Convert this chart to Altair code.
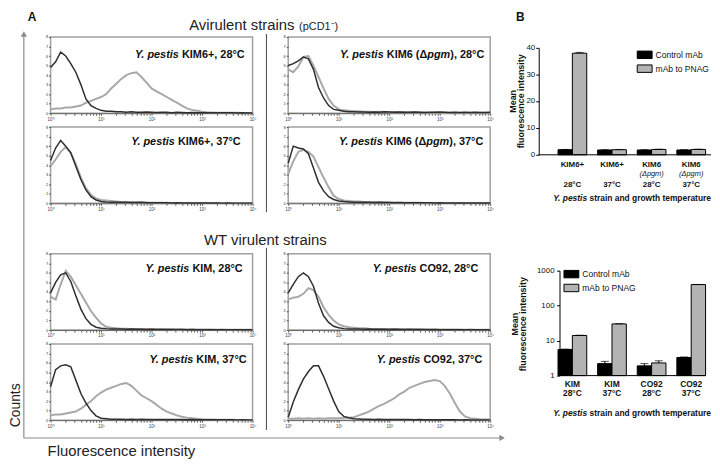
import math
import altair as alt
import pandas as pd

FONT = "Liberation Sans"
DARK = "#2e2e2e"
LIGHT = "#a8a8a8"
FRAME = "#a0a0a0"
ARROW = "#8a8a8a"

# ---------------- histogram data (log10 fluorescence bins, counts on a 0-8 axis) -------------
LOGF = [round(i * 0.1, 1) for i in range(41)]

KIM6P_28_CTRL = [4.8, 5.4, 6.4, 6.0, 5.2, 4.3, 3.0, 1.5, 0.8, 0.5, 0.3, 0.2, 0.2, 0.15, 0.15, 0.1, 0.15, 0.1, 0.1, 0.12,
                 0.1, 0.08, 0.1, 0.1, 0.06, 0.1, 0.08, 0.06, 0.08, 0.05, 0.06, 0.05, 0.05, 0.04, 0.05, 0.04, 0.04, 0.03, 0.04, 0.03, 0.03]
KIM6P_28_PNAG = [0.4, 0.5, 0.5, 0.6, 0.6, 0.7, 0.8, 1.1, 1.3, 1.5, 1.7, 2.0, 2.6, 3.1, 3.6, 4.0, 4.2, 4.3, 3.8, 3.2,
                 2.6, 2.3, 2.0, 1.7, 1.4, 1.1, 0.8, 0.5, 0.35, 0.25, 0.15, 0.1, 0.08, 0.06, 0.05, 0.05, 0.04, 0.04, 0.03, 0.03, 0.03]
KIM6P_37_CTRL = [4.5, 5.8, 6.6, 6.0, 5.3, 3.9, 2.5, 1.4, 0.7, 0.35, 0.2, 0.15, 0.12, 0.1, 0.1, 0.1, 0.08, 0.08, 0.1, 0.06,
                 0.06, 0.05, 0.06, 0.05, 0.04, 0.05, 0.04, 0.04, 0.03, 0.04, 0.03, 0.03, 0.03, 0.03, 0.02, 0.03, 0.02, 0.02, 0.02, 0.02, 0.02]
KIM6P_37_PNAG = [3.9, 4.6, 5.4, 5.9, 5.3, 4.1, 2.7, 1.6, 0.9, 0.5, 0.35, 0.3, 0.25, 0.2, 0.15, 0.12, 0.1, 0.1, 0.08, 0.08,
                 0.06, 0.06, 0.05, 0.05, 0.04, 0.04, 0.04, 0.03, 0.03, 0.03, 0.03, 0.02, 0.02, 0.02, 0.02, 0.02, 0.02, 0.02, 0.02, 0.02, 0.02]
PGM_28_CTRL = [5.0, 5.2, 5.5, 5.9, 5.7, 4.6, 2.7, 1.6, 0.8, 0.4, 0.3, 0.2, 0.15, 0.15, 0.12, 0.12, 0.1, 0.12, 0.1, 0.15,
               0.12, 0.1, 0.12, 0.1, 0.1, 0.12, 0.1, 0.08, 0.1, 0.1, 0.12, 0.1, 0.08, 0.1, 0.08, 0.1, 0.08, 0.1, 0.08, 0.08, 0.1]
PGM_28_PNAG = [4.6, 4.3, 4.9, 5.9, 6.0, 5.0, 3.8, 2.6, 1.5, 0.8, 0.4, 0.3, 0.25, 0.2, 0.2, 0.15, 0.15, 0.12, 0.15, 0.12,
               0.1, 0.12, 0.1, 0.1, 0.08, 0.1, 0.08, 0.08, 0.06, 0.08, 0.06, 0.06, 0.05, 0.06, 0.05, 0.05, 0.04, 0.05, 0.04, 0.04, 0.04]
PGM_37_CTRL = [4.2, 6.0, 5.8, 5.7, 5.2, 3.7, 2.2, 1.3, 0.7, 0.4, 0.25, 0.18, 0.15, 0.12, 0.1, 0.1, 0.1, 0.08, 0.1, 0.08,
               0.08, 0.06, 0.08, 0.06, 0.06, 0.05, 0.06, 0.05, 0.05, 0.04, 0.05, 0.04, 0.04, 0.04, 0.03, 0.04, 0.03, 0.03, 0.03, 0.03, 0.03]
PGM_37_PNAG = [3.1, 4.4, 5.4, 5.6, 5.4, 4.9, 3.8, 2.7, 1.7, 0.8, 0.45, 0.3, 0.25, 0.2, 0.18, 0.15, 0.12, 0.12, 0.1, 0.1,
               0.08, 0.08, 0.06, 0.06, 0.05, 0.05, 0.05, 0.04, 0.04, 0.04, 0.03, 0.03, 0.03, 0.03, 0.03, 0.02, 0.02, 0.02, 0.02, 0.02, 0.02]
KIM_28_CTRL = [3.9, 5.0, 5.8, 6.0, 5.1, 3.6, 2.2, 1.2, 0.6, 0.3, 0.2, 0.15, 0.12, 0.1, 0.1, 0.08, 0.1, 0.08, 0.08, 0.06,
               0.08, 0.06, 0.06, 0.05, 0.06, 0.05, 0.05, 0.04, 0.05, 0.04, 0.04, 0.04, 0.03, 0.04, 0.03, 0.03, 0.03, 0.03, 0.02, 0.03, 0.02]
KIM_28_PNAG = [3.5, 3.2, 4.8, 6.2, 5.6, 4.7, 3.8, 2.9, 2.0, 1.3, 0.7, 0.35, 0.25, 0.2, 0.15, 0.15, 0.12, 0.1, 0.12, 0.1,
               0.1, 0.08, 0.1, 0.08, 0.08, 0.06, 0.08, 0.06, 0.06, 0.05, 0.06, 0.05, 0.05, 0.04, 0.05, 0.04, 0.04, 0.04, 0.03, 0.03, 0.03]
CO92_28_CTRL = [3.9, 4.8, 5.6, 6.0, 5.6, 4.6, 2.8, 1.5, 0.8, 0.4, 0.25, 0.15, 0.12, 0.1, 0.1, 0.08, 0.1, 0.08, 0.08, 0.08,
                0.06, 0.08, 0.06, 0.06, 0.05, 0.06, 0.05, 0.05, 0.04, 0.05, 0.04, 0.04, 0.04, 0.03, 0.04, 0.03, 0.03, 0.03, 0.03, 0.03, 0.03]
CO92_28_PNAG = [3.2, 3.4, 3.5, 3.8, 4.4, 4.2, 3.5, 2.4, 1.6, 1.0, 0.6, 0.4, 0.3, 0.25, 0.2, 0.2, 0.15, 0.12, 0.12, 0.1,
                0.12, 0.1, 0.1, 0.08, 0.1, 0.08, 0.08, 0.06, 0.08, 0.06, 0.06, 0.05, 0.06, 0.05, 0.05, 0.04, 0.05, 0.04, 0.04, 0.04, 0.04]
KIM_37_CTRL = [3.5, 5.3, 5.7, 5.8, 5.6, 4.2, 2.8, 1.8, 1.0, 0.45, 0.2, 0.15, 0.1, 0.1, 0.1, 0.08, 0.1, 0.08, 0.1, 0.08,
               0.08, 0.06, 0.08, 0.06, 0.08, 0.06, 0.06, 0.05, 0.06, 0.05, 0.05, 0.05, 0.04, 0.05, 0.04, 0.04, 0.04, 0.03, 0.04, 0.03, 0.03]
KIM_37_PNAG = [0.5, 0.6, 0.6, 0.7, 0.8, 0.9, 1.2, 1.6, 2.0, 2.5, 2.9, 3.2, 3.4, 3.6, 3.8, 3.9, 3.6, 3.1, 2.6, 2.3,
               2.0, 1.6, 1.2, 0.9, 0.7, 0.5, 0.35, 0.25, 0.2, 0.15, 0.1, 0.08, 0.06, 0.05, 0.05, 0.04, 0.04, 0.03, 0.03, 0.03, 0.03]
CO92_37_CTRL = [0.3, 1.9, 3.2, 4.3, 5.1, 5.7, 5.7, 4.6, 3.3, 2.0, 0.9, 0.4, 0.25, 0.15, 0.12, 0.1, 0.1, 0.08, 0.1, 0.08,
                0.08, 0.06, 0.08, 0.06, 0.06, 0.05, 0.06, 0.05, 0.05, 0.04, 0.05, 0.04, 0.04, 0.04, 0.03, 0.04, 0.03, 0.03, 0.03, 0.03, 0.03]
CO92_37_PNAG = [0.15, 0.15, 0.2, 0.15, 0.2, 0.15, 0.2, 0.15, 0.2, 0.2, 0.2, 0.25, 0.25, 0.3, 0.5, 0.7, 0.9, 1.2, 1.5, 1.7,
                2.0, 2.3, 2.7, 3.0, 3.4, 3.6, 3.8, 4.0, 4.1, 4.2, 4.1, 3.6, 2.8, 1.8, 0.9, 0.4, 0.2, 0.15, 0.1, 0.08, 0.06]

X_TICK_VALUES = [d + math.log10(k) for d in range(4) for k in range(1, 10)] + [4.0]
X_TICK_LABELS = ["10⁰", "10¹", "10²", "10³", "10⁴"]
Y_TICK_VALUES = list(range(9))

# ---------------- bar chart data ----------------
SERIES = ["Control mAb", "mAb to PNAG"]
TOP_GROUPS = ["KIM6+ 28", "KIM6+ 37", "KIM6 pgm 28", "KIM6 pgm 37"]
TOP_LINE1 = ["KIM6+", "KIM6+", "KIM6", "KIM6"]
TOP_LINE2 = ["", "", "(Δpgm)", "(Δpgm)"]
TOP_TEMP = ["28°C", "37°C", "28°C", "37°C"]
TOP_CTRL = [1.9, 1.8, 1.8, 1.8]
TOP_CTRL_ERR = [0.1, 0.1, 0.1, 0.1]
TOP_PNAG = [38.0, 1.9, 2.0, 2.0]
TOP_PNAG_ERR = [0.3, 0.1, 0.1, 0.1]
TOP_TICKS = [0, 10, 20, 30, 40]

BOT_GROUPS = ["KIM 28", "KIM 37", "CO92 28", "CO92 37"]
BOT_LINE1 = ["KIM", "KIM", "CO92", "CO92"]
BOT_TEMP = ["28°C", "37°C", "28°C", "37°C"]
BOT_CTRL = [5.6, 2.2, 1.9, 3.3]
BOT_CTRL_ERR = [0.1, 0.35, 0.3, 0.1]
BOT_PNAG = [14.0, 30.0, 2.3, 400.0]
BOT_PNAG_ERR = [0.3, 0.5, 0.35, 3.0]
BOT_TICKS = [1, 10, 100, 1000]

ONE = pd.DataFrame({"k": [0]})

BOLD_W = {" ": 278, "(": 333, ")": 333, "+": 584, ",": 278, ".": 278, "°": 400, "Δ": 722,
          "A": 722, "C": 722, "I": 278, "K": 722, "M": 833, "O": 778, "Y": 667,
          "a": 556, "d": 611, "e": 556, "g": 611, "h": 611, "i": 278, "m": 889, "n": 611,
          "o": 611, "p": 611, "r": 389, "s": 556, "t": 333, "u": 611, "w": 778}


def text_w(s, size):
    return sum(BOLD_W.get(c, 556) for c in s) * size / 1000.0


def txt(text, x, y, size, weight="normal", style="normal", align="left", baseline="alphabetic",
        angle=0, color="#1a1a1a", line_height=None):
    kw = dict(text=text, fontSize=size, fontWeight=weight, fontStyle=style, align=align,
              baseline=baseline, angle=angle, color=color, font=FONT)
    if line_height is not None:
        kw["lineHeight"] = line_height
    return alt.Chart(ONE).mark_text(**kw).encode(x=alt.value(x), y=alt.value(y))


def rich_right(parts, x_end, y, size, color="#111"):
    """Right-aligned run of (text, italic) pieces, all bold."""
    out = []
    xr = x_end
    for text, italic in reversed(parts):
        stripped = text.rstrip(" ")
        xr_piece = xr - text_w(text[len(stripped):], size)
        out.append(txt(stripped, xr_piece, y, size, weight="bold",
                       style="italic" if italic else "normal", align="right", color=color))
        xr -= text_w(text, size)
    return out


def vrule(x, y1, y2, color, width=1.0):
    return alt.Chart(ONE).mark_rule(color=color, strokeWidth=width).encode(
        x=alt.value(x), y=alt.value(y1), y2=alt.value(y2))


def hrule(x1, x2, y, color, width=1.0):
    return alt.Chart(ONE).mark_rule(color=color, strokeWidth=width).encode(
        x=alt.value(x1), x2=alt.value(x2), y=alt.value(y))


def head(shape, x, y):
    return alt.Chart(ONE).mark_point(shape=shape, filled=True, size=40, color=ARROW, opacity=1).encode(
        x=alt.value(x), y=alt.value(y))


label_expr = " : ".join(
    f"abs(datum.value - {i}) < 0.001 ? '{lab}'" for i, lab in enumerate(X_TICK_LABELS)) + " : ''"

XAX = alt.Axis(values=X_TICK_VALUES, tickCount=len(X_TICK_VALUES), labelExpr=label_expr,
               labelFontSize=4.5, labelColor="#444",
               labelPadding=1, tickSize=2, tickColor="#555", domainColor="#666", domainWidth=1,
               grid=False, title=None, labelOverlap=False, labelFlush=False)
YAX = alt.Axis(values=Y_TICK_VALUES, tickCount=len(Y_TICK_VALUES), labelFontSize=4, labelColor="#333",
               labelPadding=1, tickSize=2,
               tickColor="#555", domain=False, grid=False, title=None, labelOverlap=False, labelFlush=False)

PW, PH = 204, 77


def panel(ctrl, pnag, parts, x_end, y_base, extras=()):
    x = alt.X("logf:Q", scale=alt.Scale(domain=[0, 4], nice=False, zero=False), axis=XAX)
    y = alt.Y("count:Q", scale=alt.Scale(domain=[0, 8], nice=False), axis=YAX)
    lp = alt.Chart(pd.DataFrame({"logf": LOGF, "count": pnag})).mark_line(
        color=LIGHT, strokeWidth=2.0).encode(x=x, y=y)
    lc = alt.Chart(pd.DataFrame({"logf": LOGF, "count": ctrl})).mark_line(
        color=DARK, strokeWidth=1.5).encode(x=x, y=y)
    layers = [lp, lc] + rich_right(parts, x_end, y_base, 11) + list(extras)
    return alt.layer(*layers).properties(
        width=PW, height=PH, view=alt.ViewBackground(stroke=FRAME, strokeWidth=1.5))


# decorations of part A, placed relative to the first / fifth panel
A_EXTRAS = [
    txt("A", -23, -25, 12, weight="bold", baseline="top", color="#111"),
    txt("Avirulent strains", 140, -7, 15, color="#222"),
    txt("(pCD1⁻)", 251, -7, 11, color="#222"),
    vrule(-27, -3, 405, ARROW, 1.2),
    hrule(-27, 455, 405, ARROW, 1.2),
    head("triangle-up", -27, -3),
    head("triangle-right", 456, 405),
    vrule(218, -3, 177, "#444", 1),
    txt("Counts", -35, 372, 14, angle=270, align="center", baseline="middle", color="#222"),
    txt("Fluorescence intensity", -3, 423, 15, color="#222"),
]
C_EXTRAS = [
    txt("WT virulent strains", 155, -9, 15, color="#222"),
    vrule(218, -6, 178, "#444", 1),
]

P1 = panel(KIM6P_28_CTRL, KIM6P_28_PNAG, [("Y. pestis ", True), ("KIM6+, 28°C", False)], 196, 21, A_EXTRAS)
P2 = panel(PGM_28_CTRL, PGM_28_PNAG, [("Y. pestis ", True), ("KIM6 (Δ", False), ("pgm", True), ("), 28°C", False)], 198, 21)
P3 = panel(KIM6P_37_CTRL, KIM6P_37_PNAG, [("Y. pestis ", True), ("KIM6+, 37°C", False)], 192, 18)
P4 = panel(PGM_37_CTRL, PGM_37_PNAG, [("Y. pestis ", True), ("KIM6 (Δ", False), ("pgm", True), ("), 37°C", False)], 197, 18)
P5 = panel(KIM_28_CTRL, KIM_28_PNAG, [("Y. pestis ", True), ("KIM, 28°C", False)], 194, 18, C_EXTRAS)
P6 = panel(CO92_28_CTRL, CO92_28_PNAG, [("Y. pestis ", True), ("CO92, 28°C", False)], 192, 18)
P7 = panel(KIM_37_CTRL, KIM_37_PNAG, [("Y. pestis ", True), ("KIM, 37°C", False)], 198, 19)
P8 = panel(CO92_37_CTRL, CO92_37_PNAG, [("Y. pestis ", True), ("CO92, 37°C", False)], 196, 19)


# ---------------- part B ----------------
def bar_chart(groups, ctrl, ctrl_err, pnag, pnag_err, y_scale, y_axis, base_value, axis_x1, axis_x2,
              legend_y, legend_x, label_layers, ticks, tick_label_x):
    df = pd.DataFrame({
        "group": groups * 2,
        "series": [SERIES[0]] * 4 + [SERIES[1]] * 4,
        "value": ctrl + pnag,
        "err": ctrl_err + pnag_err,
    })
    df["hi"] = df["value"] + df["err"]
    xb = alt.X("group:N", sort=groups, scale=alt.Scale(paddingInner=0.275, paddingOuter=0.1375), axis=None)
    xo = alt.XOffset("series:N", sort=SERIES)

    def ye(field):
        return alt.Y(field, scale=y_scale, axis=y_axis)

    bars = alt.Chart(df).mark_bar(stroke="black", strokeWidth=1).encode(
        x=xb, xOffset=xo, y=ye("value:Q"), y2=alt.datum(base_value),
        fill=alt.Fill("series:N", sort=SERIES,
                      scale=alt.Scale(domain=SERIES, range=["#000000", "#b3b3b3"]),
                      legend=alt.Legend(orient="none", legendX=legend_x, legendY=legend_y, title=None,
                                        symbolType="M-1,-0.5H1V0.5H-1Z", symbolSize=225,
                                        symbolStrokeColor="black", symbolStrokeWidth=1,
                                        labelFontSize=8.6, labelFont=FONT, labelColor="#111",
                                        labelOffset=3, rowPadding=-2, padding=0)))
    errs = alt.Chart(df).mark_rule(color="black", strokeWidth=1).encode(
        x=xb, xOffset=xo, y=ye("value:Q"), y2="hi:Q")
    caps = alt.Chart(df).mark_tick(color="black", thickness=1, size=8, orient="horizontal").encode(
        x=xb, xOffset=xo, y=ye("hi:Q"))
    baseline = alt.Chart(ONE).mark_rule(color="black", strokeWidth=1).encode(
        x=alt.value(axis_x1), x2=alt.value(axis_x2), y=alt.datum(base_value))
    tick_labels = alt.Chart(pd.DataFrame({"v": ticks, "lab": [str(t) for t in ticks]})).mark_text(
        align="right", baseline="middle", fontSize=8, font=FONT, color="#111").encode(
        x=alt.value(tick_label_x), y=ye("v:Q"), text="lab:N")
    layers = [bars, errs, caps, baseline, tick_labels]
    for data, yv, size, weight, style in label_layers:
        layers.append(alt.Chart(pd.DataFrame({"group": groups, "t": data})).mark_text(
            fontSize=size, fontWeight=weight, fontStyle=style, font=FONT, color="#111",
            baseline="alphabetic").encode(x=xb, y=alt.value(yv), text="t:N"))
    return layers


def bar_axis(values, offset):
    return alt.Axis(values=values, tickCount=len(values), labels=False, offset=offset, tickSize=3,
                    domainColor="black", tickColor="black", grid=False, title=None)


TOP_AX = bar_axis(TOP_TICKS, 14)
BOT_AX = bar_axis(BOT_TICKS, -7)

XT_PARTS = [("Y. pestis ", True), ("strain and growth temperature", False)]

top_layers = bar_chart(
    TOP_GROUPS, TOP_CTRL, TOP_CTRL_ERR, TOP_PNAG, TOP_PNAG_ERR,
    alt.Scale(domain=[0, 40], range=[119, 11], nice=False, zero=True), TOP_AX, 0, -14, 160, 10, 85,
    [(TOP_LINE1, 131, 8, "bold", "normal"), (TOP_LINE2, 140, 7.5, "normal", "italic"),
     (TOP_TEMP, 152, 8, "bold", "normal")], TOP_TICKS, -17.5)
top_layers += rich_right(XT_PARTS, 160, 166, 8.5)
top_layers += [
    txt(["Mean", "fluorescence intensity"], -40, 65, 9, weight="bold", angle=270, align="center",
        baseline="middle", color="#111", line_height=8.5),
    txt("B", -37, -25, 12, weight="bold", baseline="top", color="#111"),
]
BTOP = alt.layer(*top_layers).properties(width=160, height=PH)

bot_layers = bar_chart(
    BOT_GROUPS, BOT_CTRL, BOT_CTRL_ERR, BOT_PNAG, BOT_PNAG_ERR,
    alt.Scale(type="log", domain=[1, 1000], range=[123, 17], nice=False), BOT_AX, 1, 7, 155, 12.5, 11,
    [(BOT_LINE1, 135, 8.5, "bold", "normal"), (BOT_TEMP, 144, 8.5, "bold", "normal")], BOT_TICKS, 2)
bot_layers += rich_right(XT_PARTS, 160, 164, 8.5)
bot_layers += [
    txt(["Mean", "fluorescence intensity"], -38, 71, 9, weight="bold", angle=270, align="center",
        baseline="middle", color="#111", line_height=8.5),
]
BBOT = alt.layer(*bot_layers).properties(width=160, height=PH)


def blank(w, h):
    return alt.Chart(ONE).mark_point(opacity=0).encode(
        x=alt.value(0), y=alt.value(0)).properties(width=w, height=h)


cells = [
    P1, blank(1, PH), P2, blank(28, PH), BTOP,
    P3, blank(1, PH), P4, blank(28, PH), blank(160, PH),
    blank(PW, 23), blank(1, 23), blank(PW, 23), blank(28, 23), blank(160, 23),
    P5, blank(1, PH), P6, blank(28, PH), BBOT,
    P7, blank(1, PH), P8, blank(28, PH), blank(160, PH),
]

chart = alt.concat(*cells, columns=5, spacing={"row": 14, "column": 17.5}, align="each",
                   bounds="flush").resolve_scale(fill="independent").resolve_legend(
    fill="independent").properties(padding=0).configure(font=FONT).configure_view(stroke=None)

chart.save("out.html", embed_options={"renderer": "svg", "actions": False})
